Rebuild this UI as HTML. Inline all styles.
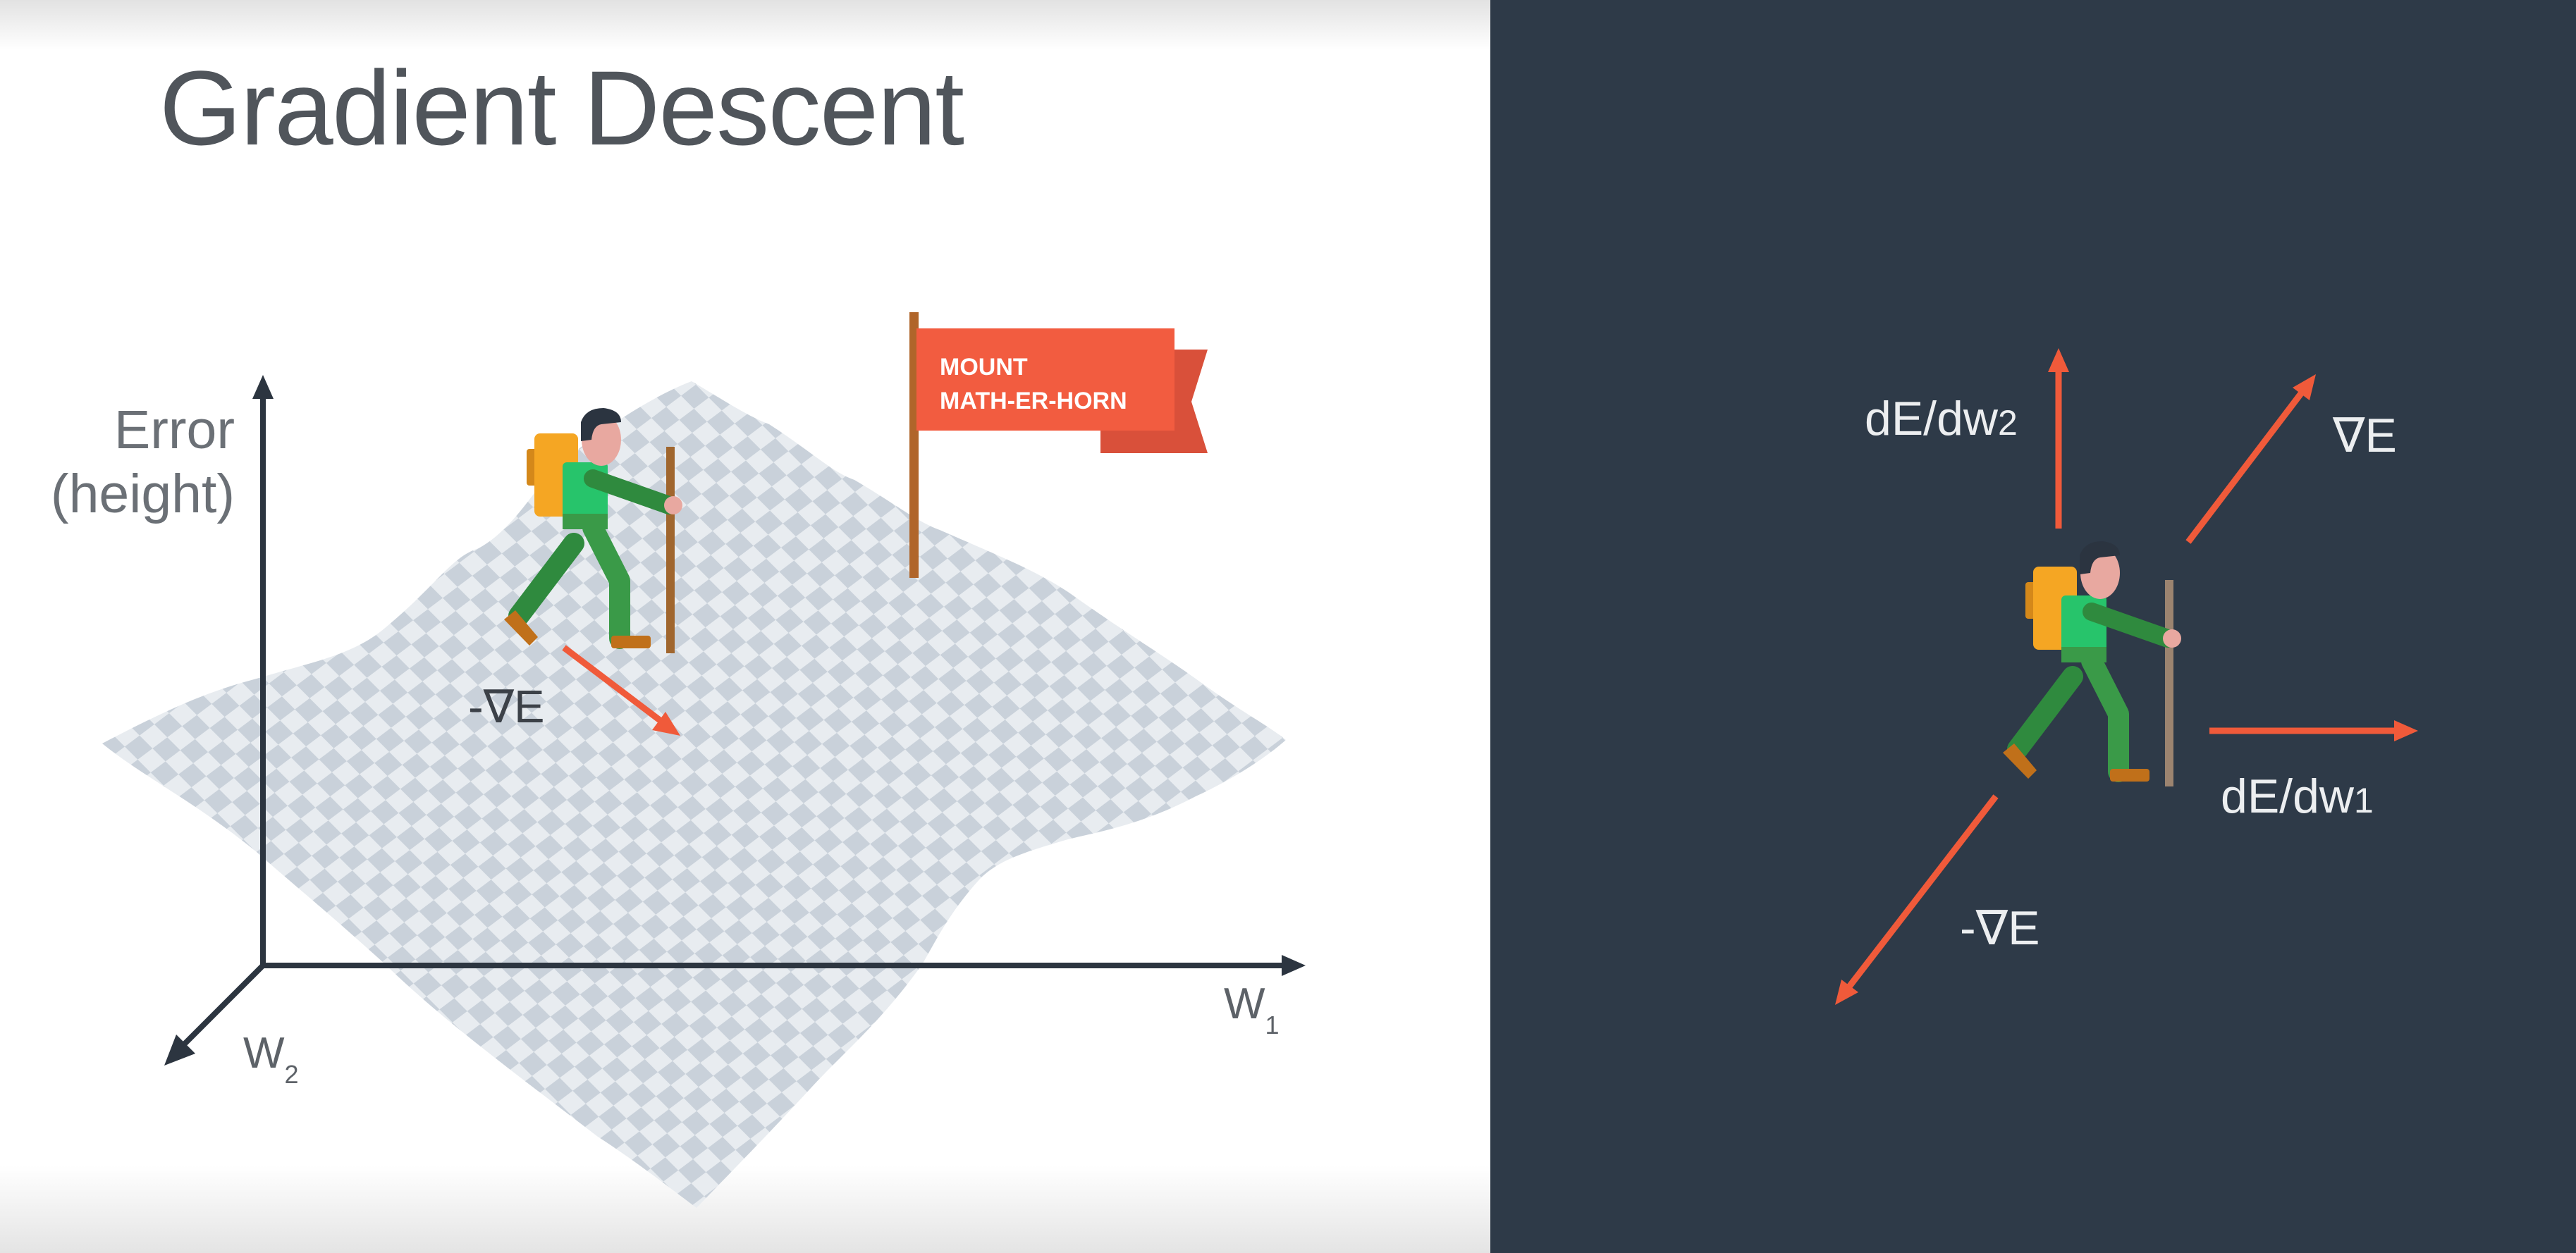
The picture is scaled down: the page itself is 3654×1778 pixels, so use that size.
<!DOCTYPE html>
<html><head><meta charset="utf-8"><style>
html,body{margin:0;padding:0;width:3654px;height:1778px;overflow:hidden;background:#fff}
svg{display:block}
text{font-family:"Liberation Sans",sans-serif}
</style></head><body>
<svg width="3654" height="1778" viewBox="0 0 3654 1778">
<defs>
<linearGradient id="lbg" x1="0" y1="0" x2="0" y2="1">
<stop offset="0" stop-color="#e2e2e2"/><stop offset="0.04" stop-color="#fff"/>
<stop offset="0.93" stop-color="#fff"/><stop offset="1" stop-color="#e4e4e4"/></linearGradient>
<pattern id="chk" width="52" height="52" patternUnits="userSpaceOnUse" patternTransform="rotate(45) skewX(-8)">
<rect width="52" height="52" fill="#e8ecf0"/><rect width="26" height="26" fill="#c9d1da"/><rect x="26" y="26" width="26" height="26" fill="#c9d1da"/></pattern>
<g id="hiker">
<rect x="-6" y="0" width="12" height="293" fill="currentColor"/>
<path d="M-137,137 L-215,240" stroke="#2f8a3e" stroke-width="30" stroke-linecap="round" fill="none"/>
<path d="M-236,245 L-200,282 L-188,270 L-220,232 Z" fill="#c0701a"/>
<path d="M-110,115 L-72,190 L-72,272" stroke="#3a9a48" stroke-width="30" stroke-linecap="round" stroke-linejoin="round" fill="none"/>
<rect x="-84" y="268" width="56" height="18" rx="4" fill="#c0701a"/>
<rect x="-110" y="14" width="18" height="20" fill="#d99a92"/>
<rect x="-204" y="3" width="20" height="52" rx="4" fill="#d4881a"/>
<rect x="-193" y="-19" width="62" height="118" rx="8" fill="#f5a623"/>
<rect x="-153" y="22" width="64" height="92" rx="6" fill="#27c46b"/>
<rect x="-153" y="95" width="64" height="22" fill="#3a9a48"/>
<path d="M-110,45 L-2,83" stroke="#2f8a3e" stroke-width="26" stroke-linecap="round" fill="none"/>
<circle cx="4" cy="83" r="13" fill="#e8a8a0"/>
<ellipse cx="-98" cy="-10" rx="28" ry="37" fill="#e8a8a0"/>
<path d="M-127,-8 L-127,-35 Q-120,-55 -95,-55 Q-70,-52 -70,-35 L-98,-32 Q-110,-30 -112,-10 Z" fill="#2b3440"/>
</g>
</defs>
<rect x="0" y="0" width="2114" height="1778" fill="url(#lbg)"/>
<rect x="2114" y="0" width="1540" height="1778" fill="#2e3a48"/>
<text x="226" y="205" font-size="150" fill="#50555b" textLength="1142">Gradient Descent</text>

<path fill="url(#chk)" d="M145,1055 C250,1000 300,980 364,963 C440,940 500,930 545,892 C620,830 640,790 679,778 C730,750 760,690 788,664 C850,610 930,560 981,541 C1030,570 1060,590 1091,602 C1150,640 1180,670 1212,681 C1270,715 1300,740 1333,752 C1420,790 1470,810 1515,840 C1600,900 1650,930 1696,963 C1760,1010 1800,1030 1824,1050 C1790,1080 1740,1110 1696,1130 C1620,1170 1560,1180 1515,1191 C1450,1210 1420,1220 1393,1244 C1350,1290 1330,1330 1309,1367 C1250,1450 1200,1490 1151,1543 C1080,1620 1030,1670 988,1714 C930,1670 890,1640 848,1613 C700,1500 620,1440 545,1367 C460,1290 410,1250 364,1209 C280,1140 200,1100 145,1055 Z"/>

<g stroke="#2c3540" stroke-width="8" fill="#2c3540">
<line x1="373" y1="1370" x2="373" y2="560"/>
<path d="M373,532 L358,566 L388,566 Z" stroke="none"/>
<line x1="373" y1="1370" x2="1820" y2="1370"/>
<path d="M1852,1370 L1818,1355 L1818,1385 Z" stroke="none"/>
<line x1="373" y1="1370" x2="256" y2="1487"/>
<path d="M233,1512 L250,1468 L277,1495 Z" stroke="none"/>
</g>
<text x="333" y="636" font-size="77" fill="#6b7076" text-anchor="end">Error</text>
<text x="333" y="727" font-size="77" fill="#6b7076" text-anchor="end">(height)</text>
<text x="1736" y="1445" font-size="62" fill="#5d6268">W<tspan font-size="36" dy="22">1</tspan></text>
<text x="345" y="1515" font-size="62" fill="#5d6268">W<tspan font-size="36" dy="22">2</tspan></text>

<g>
<rect x="1290" y="443" width="13" height="377" fill="#b0652a"/>
<path d="M1561,496 L1713,496 L1690,570 L1713,643 L1561,643 Z" fill="#d9503a"/>
<rect x="1300" y="466" width="366" height="145" fill="#f25c40"/>
<text x="1333" y="532" font-size="34" font-weight="bold" fill="#fff">MOUNT</text>
<text x="1333" y="580" font-size="34" font-weight="bold" fill="#fff">MATH-ER-HORN</text>
</g>
<use href="#hiker" x="951" y="634" style="color:#a0662e"/>
<g stroke="#f05a3a" fill="#f05a3a" stroke-width="9">
<line x1="800" y1="919" x2="940" y2="1025"/>
<path d="M965,1044 L925,1036 L944,1010 Z" stroke="none"/></g>
<text x="664" y="1025" font-size="65" fill="#3c4148">-∇E</text>

<use href="#hiker" x="3077" y="823" style="color:#9c8470"/>
<g stroke="#f05a3a" fill="#f05a3a" stroke-width="9">
<line x1="2920" y1="750" x2="2920" y2="520"/>
<path d="M2920,494 L2905,528 L2935,528 Z" stroke="none"/>
<line x1="3104" y1="769" x2="3268" y2="553"/>
<path d="M3285,531 L3252,550 L3276,568 Z" stroke="none"/>
<line x1="3134" y1="1037" x2="3404" y2="1037"/>
<path d="M3430,1037 L3396,1022 L3396,1052 Z" stroke="none"/>
<line x1="2831" y1="1130" x2="2620" y2="1404"/>
<path d="M2603,1426 L2612,1390 L2636,1408 Z" stroke="none"/>
</g>
<g fill="#eceef0" font-size="68">
<text x="2645" y="617">dE/dw<tspan font-size="50">2</tspan></text>
<text x="3309" y="641">∇E</text>
<text x="3150" y="1153">dE/dw<tspan font-size="50">1</tspan></text>
<text x="2780" y="1340">-∇E</text>
</g>
</svg>
</body></html>
